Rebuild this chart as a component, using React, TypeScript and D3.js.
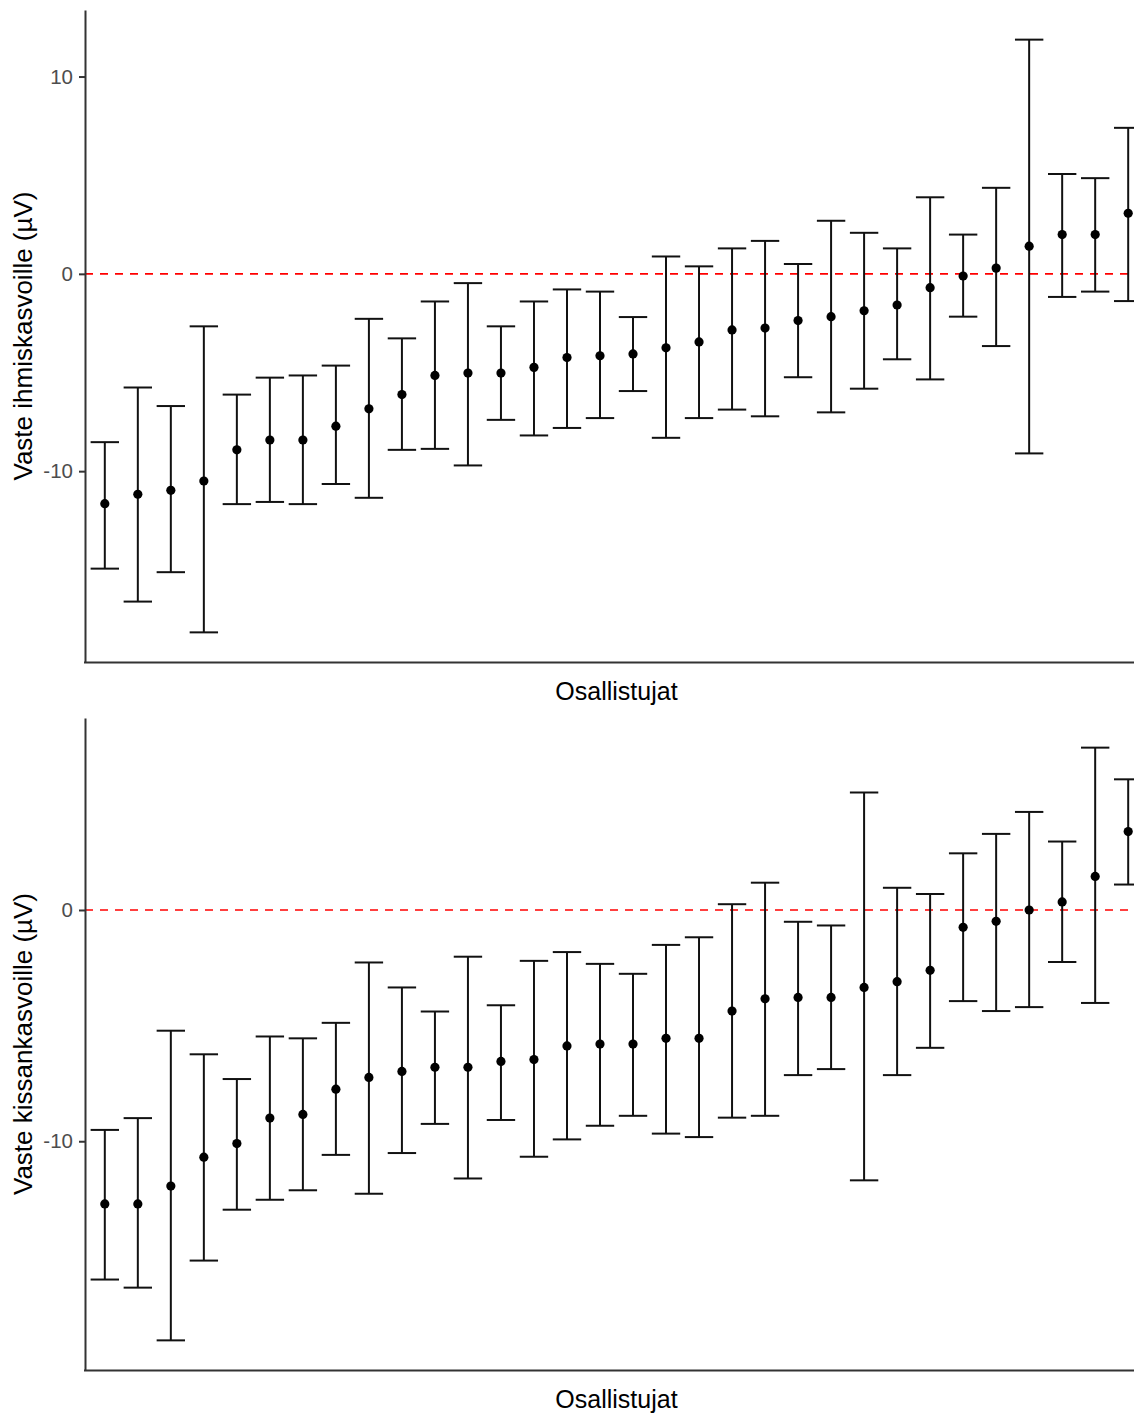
import React, { useEffect, useRef } from 'react';
import * as d3 from 'd3';

// participants, sorted by mean response within each panel
const participants = ['1', '2', '3', '4', '5', '6', '7', '8', '9', '10', '11', '12', '13', '14', '15', '16',
  '17', '18', '19', '20', '21', '22', '23', '24', '25', '26', '27', '28', '29', '30', '31', '32'];

const humanMean = [-11.65, -11.17, -10.97, -10.5, -8.92, -8.42, -8.42, -7.72, -6.84, -6.12, -5.15, -5.03, -5.03, -4.74, -4.24, -4.15,
  -4.06, -3.75, -3.45, -2.84, -2.75, -2.37, -2.17, -1.87, -1.58, -0.7, -0.11, 0.29, 1.4, 1.99, 1.99, 3.07];
const humanLower = [-14.94, -16.61, -15.12, -18.17, -11.67, -11.56, -11.67, -10.65, -11.35, -8.92, -8.87, -9.71, -7.4, -8.19, -7.81, -7.31,
  -5.94, -8.31, -7.31, -6.88, -7.22, -5.24, -7.02, -5.82, -4.33, -5.35, -2.17, -3.66, -9.1, -1.17, -0.9, -1.38];
const humanUpper = [-8.53, -5.76, -6.7, -2.66, -6.12, -5.26, -5.15, -4.65, -2.28, -3.27, -1.4, -0.47, -2.66, -1.4, -0.79, -0.9,
  -2.19, 0.88, 0.38, 1.29, 1.67, 0.5, 2.69, 2.08, 1.29, 3.88, 1.99, 4.36, 11.87, 5.06, 4.85, 7.4];

const catMean = [-12.71, -12.71, -11.94, -10.69, -10.1, -9.0, -8.84, -7.75, -7.24, -6.98, -6.8, -6.8, -6.55, -6.47, -5.88, -5.8,
  -5.8, -5.55, -5.55, -4.37, -3.84, -3.78, -3.78, -3.35, -3.1, -2.61, -0.75, -0.49, 0.0, 0.35, 1.45, 3.39];
const catLower = [-15.98, -16.33, -18.61, -15.16, -12.96, -12.53, -12.12, -10.59, -12.27, -10.51, -9.25, -11.61, -9.08, -10.67, -9.92, -9.33,
  -8.9, -9.67, -9.82, -8.98, -8.9, -7.14, -6.88, -11.69, -7.14, -5.96, -3.94, -4.37, -4.2, -2.25, -4.02, 1.1];
const catUpper = [-9.51, -9.0, -5.22, -6.24, -7.31, -5.47, -5.55, -4.88, -2.27, -3.35, -4.39, -2.02, -4.12, -2.2, -1.82, -2.33,
  -2.76, -1.51, -1.18, 0.25, 1.18, -0.51, -0.67, 5.08, 0.96, 0.69, 2.45, 3.29, 4.24, 2.96, 7.02, 5.65];

const yTicks = [-10, 0, 10];
const xTitle = 'Osallistujat';
const panelTitles = ['Vaste ihmiskasvoille (µV)', 'Vaste kissankasvoille (µV)'];

const width = 1134;
const height = 1414;
const font = '"Liberation Sans", Arial, sans-serif';

export default function App() {
  const ref = useRef<SVGSVGElement>(null);

  useEffect(() => {
    const svg = d3.select(ref.current);
    svg.selectAll('*').remove();

    const panels = [
      { mean: humanMean, lower: humanLower, upper: humanUpper, top: 10, bottom: 662, title: panelTitles[0] },
      { mean: catMean, lower: catLower, upper: catUpper, top: 718, bottom: 1370, title: panelTitles[1] },
    ];

    const left = 85;
    const x = d3.scalePoint<string>()
      .domain(participants)
      .range([left, 1148])
      .padding(0.6);
    const capHalf = x.step() * 0.43;

    panels.forEach((p) => {
      const lo = d3.min(p.lower) as number;
      const hi = d3.max(p.upper) as number;
      const pad = (hi - lo) * 0.05;
      const y = d3.scaleLinear().domain([lo - pad, hi + pad]).range([p.bottom, p.top]);
      const ticks = yTicks.filter((t) => t >= lo - pad && t <= hi + pad);

      const g = svg.append('g');

      // zero reference
      g.append('line')
        .attr('x1', left).attr('x2', width)
        .attr('y1', y(0)).attr('y2', y(0))
        .attr('stroke', '#ff0000')
        .attr('stroke-width', 1.6)
        .attr('stroke-dasharray', '8,7');

      const bars = g.selectAll('g.bar')
        .data(participants)
        .enter()
        .append('g')
        .attr('class', 'bar')
        .attr('stroke', '#111')
        .attr('stroke-width', 2);

      bars.append('line')
        .attr('x1', (d) => x(d) as number).attr('x2', (d) => x(d) as number)
        .attr('y1', (d, i) => y(p.lower[i])).attr('y2', (d, i) => y(p.upper[i]));
      bars.append('line')
        .attr('x1', (d) => (x(d) as number) - capHalf).attr('x2', (d) => (x(d) as number) + capHalf)
        .attr('y1', (d, i) => y(p.upper[i])).attr('y2', (d, i) => y(p.upper[i]));
      bars.append('line')
        .attr('x1', (d) => (x(d) as number) - capHalf).attr('x2', (d) => (x(d) as number) + capHalf)
        .attr('y1', (d, i) => y(p.lower[i])).attr('y2', (d, i) => y(p.lower[i]));

      g.selectAll('circle')
        .data(participants)
        .enter()
        .append('circle')
        .attr('cx', (d) => x(d) as number)
        .attr('cy', (d, i) => y(p.mean[i]))
        .attr('r', 4.6)
        .attr('fill', '#000');

      // axes
      const yAxis = g.append('g')
        .attr('transform', `translate(${left},0)`)
        .call(d3.axisLeft(y).tickValues(ticks).tickFormat((d) => String(d))
          .tickSize(6).tickSizeOuter(0).tickPadding(6));
      yAxis.select('.domain').attr('stroke', '#333').attr('stroke-width', 2);
      yAxis.selectAll('.tick line').attr('stroke', '#333').attr('stroke-width', 2);
      yAxis.selectAll('.tick text')
        .attr('fill', '#4d4d4d')
        .style('font-family', font)
        .style('font-size', '20.5px');

      const xAxis = g.append('g')
        .attr('transform', `translate(0,${p.bottom})`)
        .call(d3.axisBottom(x).tickValues([]).tickSizeOuter(0));
      xAxis.select('.domain')
        .attr('d', `M${left - 1},0.5H${width}`)
        .attr('stroke', '#333').attr('stroke-width', 2);

      // titles
      g.append('text')
        .attr('x', (left + 1148) / 2)
        .attr('y', p.bottom + 38)
        .attr('text-anchor', 'middle')
        .style('font-family', font)
        .style('font-size', '25px')
        .attr('fill', '#000')
        .text(xTitle);

      g.append('text')
        .attr('transform', `translate(32,${(p.top + p.bottom) / 2}) rotate(-90)`)
        .attr('text-anchor', 'middle')
        .style('font-family', font)
        .style('font-size', '26px')
        .attr('fill', '#000')
        .text(p.title);
    });
  }, []);

  return (
    <svg
      ref={ref}
      width={width}
      height={height}
      style={{ position: 'absolute', left: 0, top: 0, background: '#fff' }}
    />
  );
}
